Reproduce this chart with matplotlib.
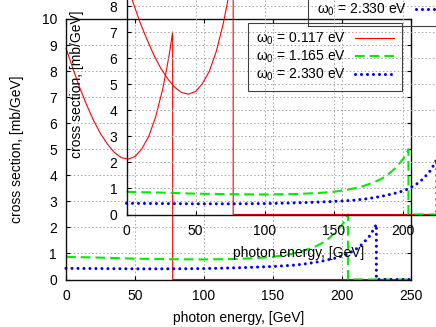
import numpy as np
import matplotlib
matplotlib.use('Agg')
import matplotlib.pyplot as plt

plt.rcParams['font.family'] = ['Liberation Sans', 'DejaVu Sans']
plt.rcParams['mathtext.fontset'] = 'custom'
plt.rcParams['mathtext.rm'] = 'Liberation Sans'
plt.rcParams['mathtext.it'] = 'Liberation Sans:italic'
plt.rcParams['lines.scale_dashes'] = False

# photon energy [GeV] / cross section [mb/GeV]
e_red = [0, 5, 10, 15, 20, 25, 30, 35, 40, 45, 50, 55, 60, 65, 70, 73, 75, 76, 77.3, 77.3, 250]
s_red = [8.88, 8.1, 7.35, 6.7, 6.1, 5.6, 5.2, 4.88, 4.68, 4.62, 4.72, 5.02, 5.5, 6.25, 7.3, 8.1, 8.7, 9.05, 9.5, 0, 0]

e_green = [0, 25, 50, 75, 100, 125, 140, 150, 160, 170, 180, 185, 190, 195, 200, 202, 204.3, 204.3, 250]
s_green = [0.87, 0.84, 0.80, 0.78, 0.77, 0.79, 0.83, 0.87, 0.95, 1.06, 1.25, 1.38, 1.56, 1.79, 2.1, 2.25, 2.5, 0, 0]

e_blue = [0, 25, 50, 75, 100, 125, 150, 165, 175, 185, 195, 200, 205, 210, 215, 220, 223, 224.9, 224.9, 250]
s_blue = [0.43, 0.42, 0.41, 0.41, 0.42, 0.45, 0.50, 0.55, 0.61, 0.70, 0.82, 0.90, 1.0, 1.16, 1.37, 1.67, 1.93, 2.12, 0, 0]

labels = ['ω$_0$ = 0.117 eV', 'ω$_0$ = 1.165 eV', 'ω$_0$ = 2.330 eV']
xticks = [0, 50, 100, 150, 200, 250]
yticks = list(range(0, 11))

W, H = 436, 327


def draw(ax):
    # lines sit just under the frame, but are not clipped at y=0
    ax.plot(e_red, s_red, color='#ff0000', lw=0.8, label=labels[0], clip_on=False, zorder=2.4)
    ax.plot(e_green, s_green, color='#00ee00', lw=1.5, dashes=(7, 3.6),
            label=labels[1], clip_on=False, zorder=2.4)
    ax.plot(e_blue, s_blue, color='#0000ff', lw=2.2, linestyle=(0, (0.01, 4.3)),
            dash_capstyle='round', label=labels[2], clip_on=False, zorder=2.4)
    ax.set_xlim(0, 250)
    ax.set_ylim(0, 10)
    ax.set_xticks(xticks)
    ax.set_yticks(yticks)
    ax.grid(True, color='#a0a0a0', linestyle=':', linewidth=0.7)
    ax.tick_params(direction='in', top=True, right=True, length=3, width=0.8,
                   labelsize=10, colors='#000000')
    ax.tick_params(axis='x', pad=7)
    ax.tick_params(axis='y', pad=6.5)
    for sp in ax.spines.values():
        sp.set_linewidth(1.0)
        sp.set_color('#101010')
    ax.set_xlabel('photon energy, [GeV]', fontsize=10)
    ax.set_ylabel('cross section, [mb/GeV]', fontsize=10)
    ax.xaxis.set_label_coords(0.5, -0.149)
    ax.xaxis.label.set_va('center')
    ax.yaxis.set_label_coords(-0.143, 0.5)
    ax.yaxis.label.set_va('center')
    leg = ax.legend(loc='upper right', bbox_to_anchor=(0.975, 0.986), markerfirst=False,
                    fontsize=10, handlelength=2.8, handletextpad=0.65, borderpad=0.6,
                    labelspacing=0.1, borderaxespad=0, fancybox=False,
                    facecolor='none', edgecolor='#404040', framealpha=1)
    leg.get_frame().set_linewidth(0.8)


fig = plt.figure(figsize=(W / 100, H / 100), dpi=100)
left, bottom = 66 / W, (H - 279.5) / H
width, height = 345 / W, 260.5 / H
ax1 = fig.add_axes([left, bottom, width, height])
draw(ax1)

# second copy of the same plot, shifted up and right
ax2 = fig.add_axes([left + 60.5 / W, bottom + 65 / H, width, height])
ax2.patch.set_visible(False)
draw(ax2)

fig.savefig('out.png', dpi=100)
